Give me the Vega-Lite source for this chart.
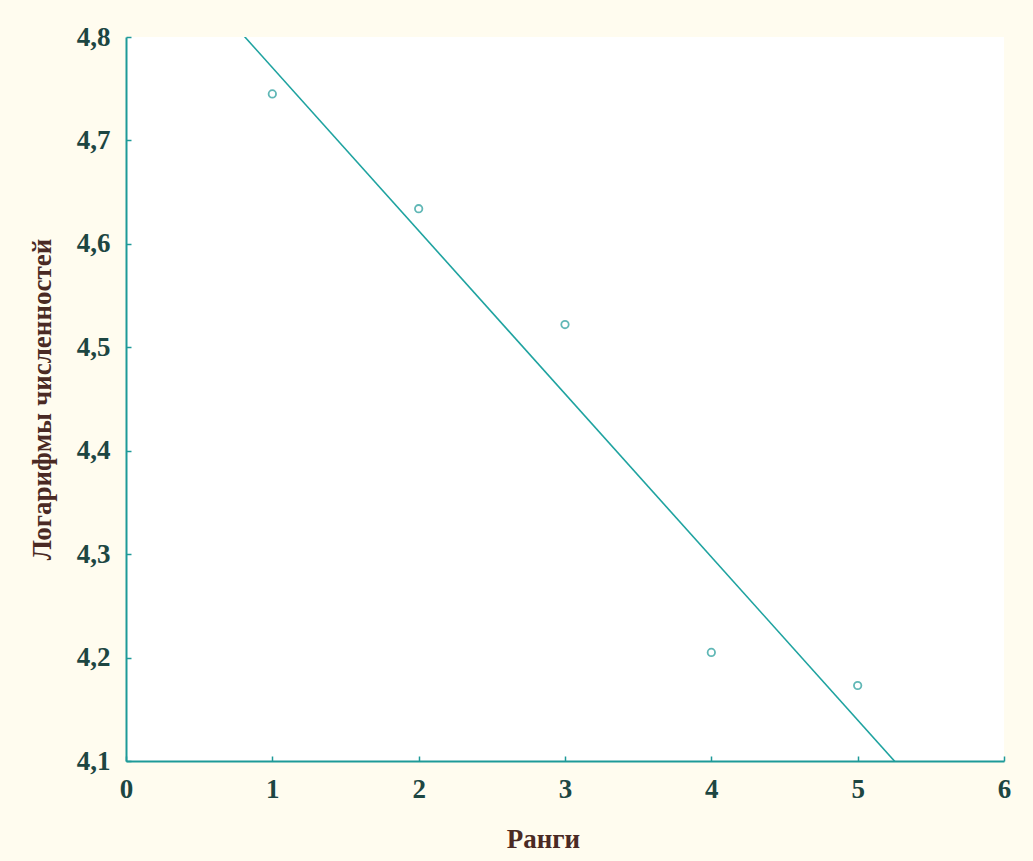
{
  "$schema": "https://vega.github.io/schema/vega-lite/v6.json",
  "width": 878,
  "height": 724,
  "autosize": "none",
  "padding": {"left": 126, "top": 37, "right": 29, "bottom": 100},
  "background": "#fffcef",
  "config": {
    "view": {"stroke": null, "fill": "#ffffff"},
    "axis": {
      "domainColor": "#1e9a98",
      "domainWidth": 2,
      "tickColor": "#1e9a98",
      "tickWidth": 1.5,
      "tickSize": -5,
      "grid": false,
      "labelFlush": false,
      "labelOverlap": false,
      "labelFont": "Liberation Serif",
      "labelFontWeight": "bold",
      "labelFontSize": 27,
      "labelColor": "#1d4642",
      "titleFont": "Liberation Serif",
      "titleFontWeight": "bold",
      "titleFontSize": 27,
      "titleColor": "#4a2a24"
    }
  },
  "datasets": {
    "points": [
      {"rank": 1, "logn": 4.745},
      {"rank": 2, "logn": 4.634},
      {"rank": 3, "logn": 4.522},
      {"rank": 4, "logn": 4.205},
      {"rank": 5, "logn": 4.173}
    ],
    "fit": [
      {"rank": 0.8, "logn": 4.802},
      {"rank": 5.27, "logn": 4.097}
    ]
  },
  "layer": [
    {
      "data": {"name": "fit"},
      "mark": {"type": "line", "color": "#1fa3a0", "strokeWidth": 1.6, "clip": true},
      "encoding": {
        "x": {"field": "rank", "type": "quantitative",
              "scale": {"domain": [0, 6], "nice": false, "zero": false},
              "axis": {"values": [0, 1, 2, 3, 4, 5, 6], "format": "d", "title": "Ранги",
                       "labelPadding": 20, "titlePadding": 24, "titleX": 417, "titleAnchor": null}},
        "y": {"field": "logn", "type": "quantitative",
              "scale": {"domain": [4.1, 4.8], "nice": false, "zero": false},
              "axis": {"values": [4.1, 4.2, 4.3, 4.4, 4.5, 4.6, 4.7, 4.8], "format": ".1f",
                       "labelExpr": "replace(datum.label, '.', ',')",
                       "title": "Логарифмы численностей", "labelPadding": 21, "titlePadding": 20}}
      }
    },
    {
      "data": {"name": "points"},
      "mark": {"type": "point", "shape": "circle", "filled": false, "color": "#1e9a98", "size": 55, "strokeWidth": 1.8},
      "encoding": {
        "x": {"field": "rank", "type": "quantitative"},
        "y": {"field": "logn", "type": "quantitative"}
      }
    }
  ]
}
